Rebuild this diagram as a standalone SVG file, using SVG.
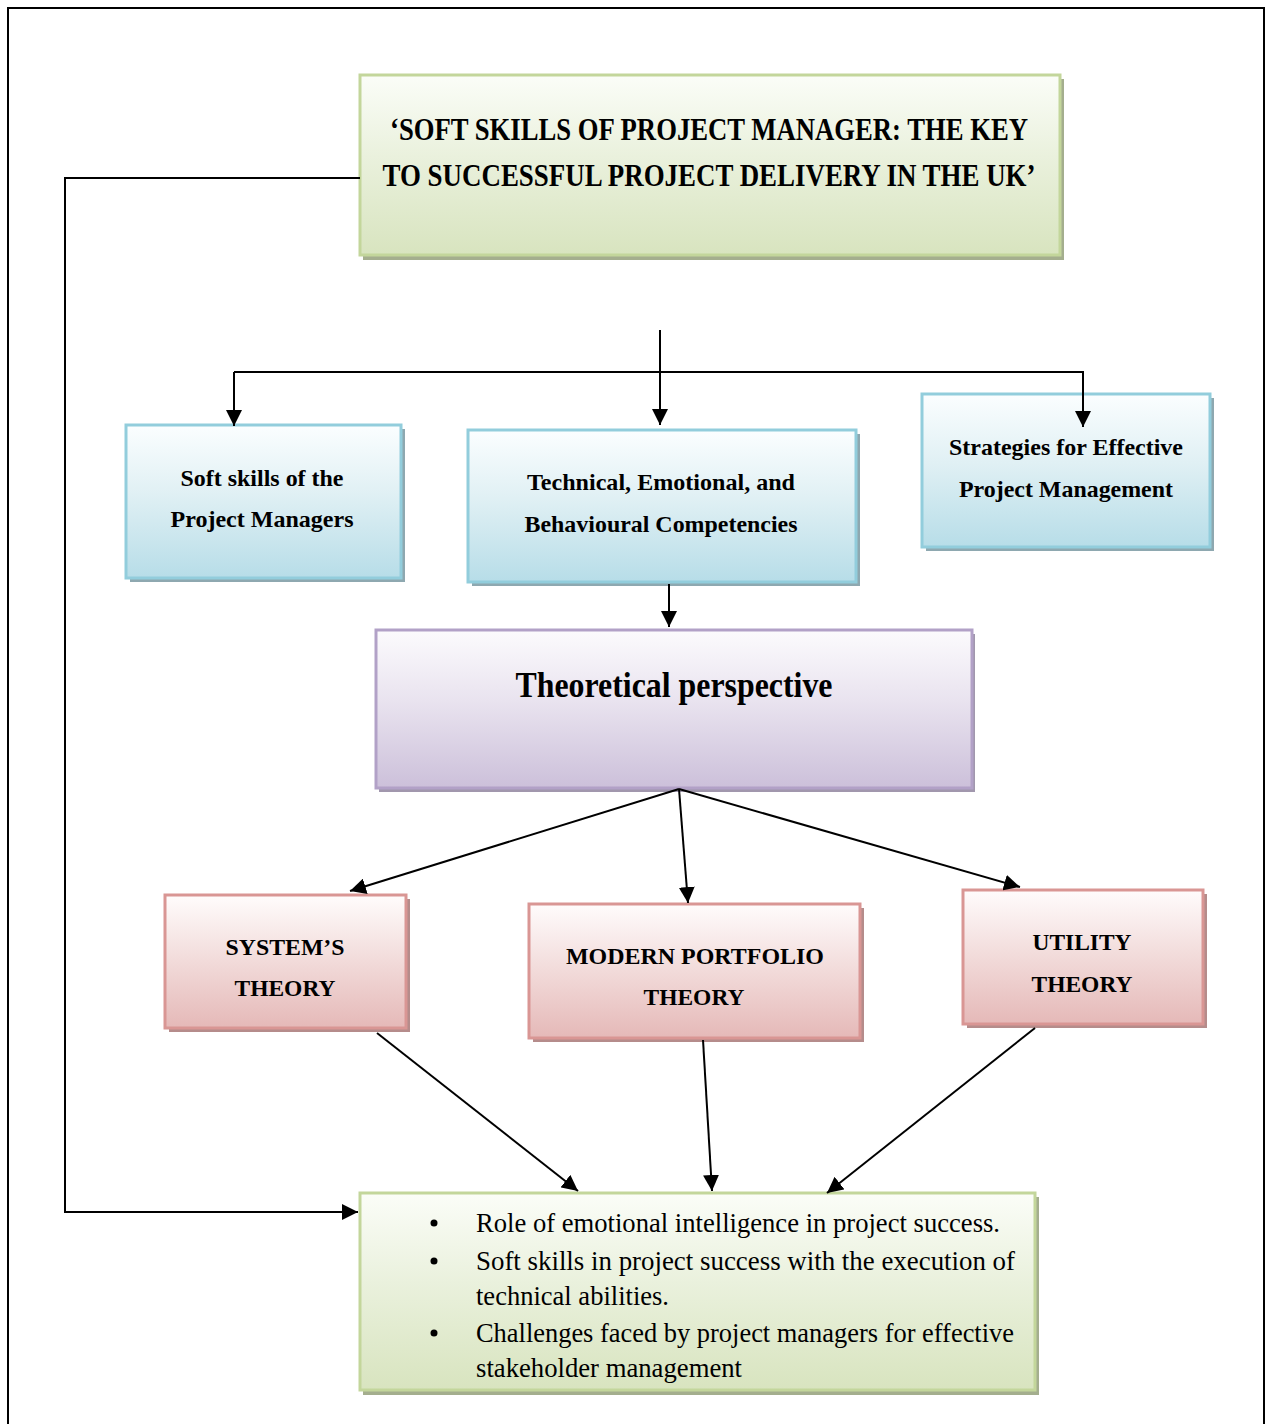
<svg xmlns="http://www.w3.org/2000/svg" width="1266" height="1424" viewBox="0 0 1266 1424">
<defs>
<linearGradient id="gGreen" x1="0" y1="0" x2="0" y2="1"><stop offset="0" stop-color="#fbfdf8"/><stop offset="0.45" stop-color="#eaf1dd"/><stop offset="1" stop-color="#d8e4bf"/></linearGradient>
<linearGradient id="gBlue" x1="0" y1="0" x2="0" y2="1"><stop offset="0" stop-color="#fbfeff"/><stop offset="0.45" stop-color="#e0f0f4"/><stop offset="1" stop-color="#b7dde8"/></linearGradient>
<linearGradient id="gPurple" x1="0" y1="0" x2="0" y2="1"><stop offset="0" stop-color="#fcfbfd"/><stop offset="0.45" stop-color="#e9e3ef"/><stop offset="1" stop-color="#ccc0da"/></linearGradient>
<linearGradient id="gRed" x1="0" y1="0" x2="0" y2="1"><stop offset="0" stop-color="#fffcfc"/><stop offset="0.45" stop-color="#f3dedd"/><stop offset="1" stop-color="#e5b9b8"/></linearGradient>
<marker id="arr" viewBox="0 0 10 10" refX="10" refY="5" markerWidth="16" markerHeight="16" markerUnits="userSpaceOnUse" orient="auto"><path d="M0,0 L10,5 L0,10 z" fill="#000"/></marker>
</defs>
<style>
.t{font-family:"Liberation Serif","Times New Roman",serif;font-weight:bold;fill:#000;text-anchor:middle}
.b{font-family:"Liberation Serif","Times New Roman",serif;fill:#000;font-size:28px}
.c{fill:none;stroke:#000;stroke-width:2}
.green{fill:url(#gGreen);stroke:#c3d69b;stroke-width:3}
.blue{fill:url(#gBlue);stroke:#92cddc;stroke-width:3}
.purple{fill:url(#gPurple);stroke:#b2a1c7;stroke-width:3}
.red{fill:url(#gRed);stroke:#d99694;stroke-width:3}
.sg{fill:#a4ae8e}.sb{fill:#8ea8b0}.sp{fill:#a197ad}.sr{fill:#b58c8b}
</style>
<rect x="0" y="0" width="1266" height="1424" fill="#fff"/>
<rect x="8" y="8" width="1256" height="1430" fill="none" stroke="#000" stroke-width="2"/>

<g id="title">
<rect class="sg" x="363" y="79" width="701" height="181"/>
<rect class="green" x="360" y="75" width="700" height="180"/>
<text class="t" font-size="31" x="709" y="140" textLength="638" lengthAdjust="spacingAndGlyphs">‘SOFT SKILLS OF PROJECT MANAGER: THE KEY</text>
<text class="t" font-size="31" x="709" y="186" textLength="653" lengthAdjust="spacingAndGlyphs">TO SUCCESSFUL PROJECT  DELIVERY IN THE UK’</text>
</g>

<g id="soft-skills">
<rect class="sb" x="130" y="429" width="275" height="153"/>
<rect class="blue" x="126" y="425" width="275" height="153"/>
<text class="t" font-size="24" x="262" y="486" textLength="163" lengthAdjust="spacingAndGlyphs">Soft skills of the</text>
<text class="t" font-size="24" x="262" y="527" textLength="183" lengthAdjust="spacingAndGlyphs">Project Managers</text>
</g>

<g id="competencies">
<rect class="sb" x="472" y="434" width="388" height="152"/>
<rect class="blue" x="468" y="430" width="388" height="152"/>
<text class="t" font-size="24" x="661" y="490" textLength="268" lengthAdjust="spacingAndGlyphs">Technical, Emotional, and</text>
<text class="t" font-size="24" x="661" y="532" textLength="273" lengthAdjust="spacingAndGlyphs">Behavioural Competencies</text>
</g>

<g id="strategies">
<rect class="sb" x="926" y="398" width="288" height="153"/>
<rect class="blue" x="922" y="394" width="288" height="153"/>
<text class="t" font-size="24" x="1066" y="455" textLength="234" lengthAdjust="spacingAndGlyphs">Strategies for Effective</text>
<text class="t" font-size="24" x="1066" y="497" textLength="214" lengthAdjust="spacingAndGlyphs">Project Management</text>
</g>

<g id="theoretical">
<rect class="sp" x="379" y="634" width="596" height="158"/>
<rect class="purple" x="376" y="630" width="596" height="158"/>
<text class="t" font-size="35" x="674" y="697" textLength="317" lengthAdjust="spacingAndGlyphs">Theoretical perspective</text>
</g>

<g id="systems">
<rect class="sr" x="169" y="899" width="241" height="133"/>
<rect class="red" x="165" y="895" width="241" height="133"/>
<text class="t" font-size="24" x="285" y="955" textLength="119" lengthAdjust="spacingAndGlyphs">SYSTEM’S</text>
<text class="t" font-size="24" x="285" y="996" textLength="101" lengthAdjust="spacingAndGlyphs">THEORY</text>
</g>

<g id="portfolio">
<rect class="sr" x="533" y="908" width="331" height="134"/>
<rect class="red" x="529" y="904" width="331" height="134"/>
<text class="t" font-size="24" x="695" y="964" textLength="258" lengthAdjust="spacingAndGlyphs">MODERN PORTFOLIO</text>
<text class="t" font-size="24" x="694" y="1005" textLength="101" lengthAdjust="spacingAndGlyphs">THEORY</text>
</g>

<g id="utility">
<rect class="sr" x="967" y="894" width="240" height="134"/>
<rect class="red" x="963" y="890" width="240" height="134"/>
<text class="t" font-size="24" x="1082" y="950" textLength="99" lengthAdjust="spacingAndGlyphs">UTILITY</text>
<text class="t" font-size="24" x="1082" y="992" textLength="101" lengthAdjust="spacingAndGlyphs">THEORY</text>
</g>

<g id="outcomes">
<rect class="sg" x="363" y="1197" width="676" height="198"/>
<rect class="green" x="360" y="1193" width="675" height="197"/>
<circle cx="434" cy="1223" r="3.5" fill="#000"/>
<circle cx="434" cy="1261" r="3.5" fill="#000"/>
<circle cx="434" cy="1333" r="3.5" fill="#000"/>
<text class="b" x="476" y="1232" textLength="524" lengthAdjust="spacingAndGlyphs">Role of emotional intelligence in project success.</text>
<text class="b" x="476" y="1270" textLength="539" lengthAdjust="spacingAndGlyphs">Soft skills in project success with the execution of</text>
<text class="b" x="476" y="1305" textLength="193" lengthAdjust="spacingAndGlyphs">technical abilities.</text>
<text class="b" x="476" y="1342" textLength="538" lengthAdjust="spacingAndGlyphs">Challenges faced by project managers for effective</text>
<text class="b" x="476" y="1377" textLength="266" lengthAdjust="spacingAndGlyphs">stakeholder management</text>
</g>

<g id="connectors">
<polyline class="c" points="360,178 65,178 65,1212 358,1212" marker-end="url(#arr)"/>
<line class="c" x1="660" y1="330" x2="660" y2="425" marker-end="url(#arr)"/>
<line class="c" x1="234" y1="372" x2="234" y2="426" marker-end="url(#arr)"/>
<polyline class="c" points="234,372 1083,372 1083,427" marker-end="url(#arr)"/>
<line class="c" x1="669" y1="584" x2="669" y2="627" marker-end="url(#arr)"/>
<line class="c" x1="679" y1="789" x2="350" y2="891" marker-end="url(#arr)"/>
<line class="c" x1="679" y1="789" x2="688" y2="903" marker-end="url(#arr)"/>
<line class="c" x1="679" y1="789" x2="1020" y2="887" marker-end="url(#arr)"/>
<line class="c" x1="377" y1="1033" x2="578" y2="1191" marker-end="url(#arr)"/>
<line class="c" x1="703" y1="1040" x2="712" y2="1191" marker-end="url(#arr)"/>
<line class="c" x1="1035" y1="1028" x2="827" y2="1193" marker-end="url(#arr)"/>
</g>
</svg>
